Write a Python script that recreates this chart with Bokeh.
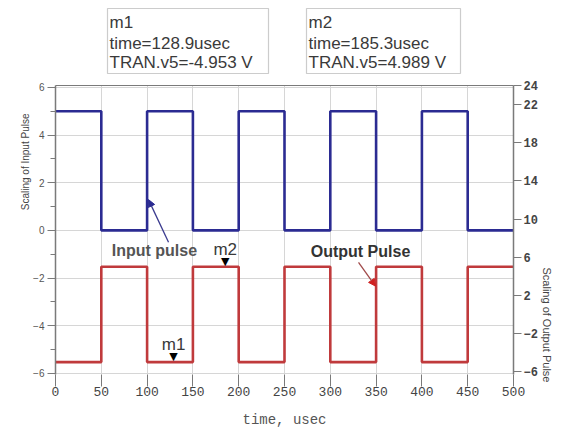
from bokeh.plotting import figure
from bokeh.layouts import column
from bokeh.models import (Range1d, LinearAxis, FixedTicker, Label, Arrow, NormalHead,
                          BoxAnnotation, Title)
from bokeh.core.properties import value
from bokeh.embed import file_html
from bokeh.resources import INLINE

# ---- data ----
edge_times_usec = [0, 50, 100, 150, 200, 250, 300, 350, 400, 450, 500]
input_pulse_v = [5, 0, 5, 0, 5, 0, 5, 0, 5, 0]
output_pulse_v = [-5, 5, -5, 5, -5, 5, -5, 5, -5, 5]

x_ticks = [0, 50, 100, 150, 200, 250, 300, 350, 400, 450, 500]
left_ticks = [-6, -4, -2, 0, 2, 4, 6]
left_minor = [-5, -3, -1, 1, 3, 5]
right_ticks = [-6, -2, 2, 6, 10, 14, 18, 22, 24]

marker_names = ["m1", "m2"]
marker_time_usec = [128.9, 185.3]
marker_v = [-4.953, 4.989]


def steps(edges, levels):
    xs, ys = [], []
    for i, lv in enumerate(levels):
        xs += [edges[i], edges[i + 1]]
        ys += [lv, lv]
    return xs, ys


in_x, in_y = steps(edge_times_usec, input_pulse_v)
out_x, out_y = steps(edge_times_usec, output_pulse_v)

AX = "#7a7a7a"
TXT = "#3a3a3a"
W = 557
FRAME_LEFT = 55   # column layout aligns the strip's frame with the chart's frame

# ---------- marker readout strip (above the chart) ----------
top = figure(width=W, height=77, x_range=Range1d(0, W), y_range=Range1d(0, 77),
             output_backend="svg", toolbar_location=None, min_border=0,
             x_axis_location=None, y_axis_location=None)
top.outline_line_color = None
top.grid.visible = False
top.background_fill_color = "white"
top.border_fill_color = "white"

box_left = [107, 306]
box_right = [268, 460]
for name, t, v, bl, br in zip(marker_names, marker_time_usec, marker_v, box_left, box_right):
    top.add_layout(BoxAnnotation(left=bl - FRAME_LEFT, right=br - FRAME_LEFT, top=69, bottom=4,
                                 left_units="screen", right_units="screen",
                                 top_units="screen", bottom_units="screen",
                                 fill_color="white", fill_alpha=1.0,
                                 line_color="#555555", line_width=1.2))
    lines = [name, f"time={t}usec", f"TRAN.v5={v} V"]
    for ln, yc in zip(lines, [55, 34, 15]):
        top.add_layout(Label(x=bl + 2 - FRAME_LEFT, y=yc, x_units="screen", y_units="screen",
                             text=ln, text_align="left", text_baseline="middle",
                             text_font="Liberation Sans", text_font_size="17px",
                             text_color=TXT))

# ---------- main chart ----------
p = figure(width=W, height=353, x_range=Range1d(0, 500), y_range=Range1d(-6.05, 6.08),
           output_backend="svg", toolbar_location=None,
           min_border_left=55, min_border_right=44, min_border_top=8, min_border_bottom=54)
p.extra_y_ranges = {"right": Range1d(-6.3, 24)}
p.outline_line_color = None
p.background_fill_color = "white"
p.border_fill_color = "white"

p.xgrid.ticker = FixedTicker(ticks=x_ticks)
p.ygrid.ticker = FixedTicker(ticks=left_ticks)
p.grid.grid_line_color = "#d6d6d6"
p.grid.grid_line_width = 1

xa = p.xaxis[0]
xa.ticker = FixedTicker(ticks=x_ticks)
xa.axis_line_color = None
xa.major_tick_in = 0
xa.major_tick_out = 12
xa.major_tick_line_color = AX
xa.minor_tick_line_color = None
xa.major_label_text_font = "Liberation Mono"
xa.major_label_text_font_size = "13px"
xa.major_label_text_color = "#444444"
xa.major_label_standoff = 0
xa.axis_label = "time, usec"
xa.axis_label_text_font = "Liberation Mono"
xa.axis_label_text_font_size = "14px"
xa.axis_label_text_font_style = "normal"
xa.axis_label_text_color = "#555555"
xa.axis_label_standoff = 13

ya = p.yaxis[0]
ya.ticker = FixedTicker(ticks=left_ticks, minor_ticks=left_minor)
ya.axis_line_color = AX
ya.axis_line_width = 1.5
ya.major_tick_in = 0
ya.major_tick_out = 8
ya.minor_tick_in = 0
ya.minor_tick_out = 5
ya.major_tick_line_color = AX
ya.minor_tick_line_color = AX
ya.major_label_text_font = "Liberation Sans"
ya.major_label_text_font_size = "10px"
ya.major_label_text_color = "#555555"
ya.major_label_standoff = 3

ra = LinearAxis(y_range_name="right", ticker=FixedTicker(ticks=right_ticks))
ra.axis_line_color = AX
ra.axis_line_width = 1.5
ra.major_tick_in = 0
ra.major_tick_out = 8
ra.major_tick_line_color = AX
ra.minor_tick_line_color = None
ra.major_label_text_font = "Liberation Mono"
ra.major_label_text_font_style = "bold"
ra.major_label_text_font_size = "12px"
ra.major_label_text_color = "#444444"
ra.major_label_standoff = 2
p.add_layout(ra, "right")

ta = LinearAxis(ticker=FixedTicker(ticks=[]))
ta.axis_line_color = AX
ta.axis_line_width = 1.2
ta.major_tick_line_color = None
ta.minor_tick_line_color = None
ta.major_tick_out = 0
ta.major_label_standoff = 0
ta.major_label_text_font_size = "0px"
p.add_layout(ta, "above")

# axis titles as side titles (offset along the side)
p.add_layout(Title(text="Scaling of Input Pulse", align="right", offset=28,
                   text_font="Liberation Sans", text_font_size="10px",
                   text_font_style="normal", text_color="#444444", standoff=0), "left")
p.add_layout(Title(text="Scaling of Output Pulse", align="left", offset=182,
                   text_font="Liberation Sans", text_font_size="11px",
                   text_font_style="normal", text_color="#444444", standoff=0), "right")

# signals
p.line(in_x, in_y, line_color="#2b2b92", line_width=2.6)
p.line(out_x, out_y, y_range_name="right", line_color="#c03a3c", line_width=2.6)

# markers
p.text(x=marker_time_usec, y=marker_v, text=["\u25BC"] * 2, y_range_name="right",
       text_align="center", text_baseline="bottom", text_font_size="11px",
       text_color="black", text_font=value("DejaVu Sans"), y_offset=1)
p.text(x=marker_time_usec, y=marker_v, text=marker_names, y_range_name="right",
       text_align="center", text_baseline="bottom", text_font_size="17px",
       text_color=TXT, text_font=value("Liberation Sans"), y_offset=-8)

# annotations
p.add_layout(Label(x=108, y=-0.84, text="Input pulse", text_align="center", text_baseline="middle",
                   text_font="Liberation Sans", text_font_style="bold", text_font_size="16px",
                   text_color="#555555"))
p.add_layout(Label(x=333, y=-0.88, text="Output Pulse", text_align="center", text_baseline="middle",
                   text_font="Liberation Sans", text_font_style="bold", text_font_size="16px",
                   text_color="#333333"))
p.add_layout(Arrow(x_start=123.4, y_start=-0.5, x_end=101.5, y_end=1.29,
                   line_color="#3b3b8f", line_width=1.3,
                   end=NormalHead(size=7, fill_color="#2b2b92", line_color="#2b2b92")))
p.add_layout(Arrow(x_start=330.8, y_start=-1.34, x_end=349.3, y_end=-2.34,
                   line_color="#a04a4a", line_width=1.3,
                   end=NormalHead(size=7, fill_color="#d02020", line_color="#d02020")))

layout = column(top, p, spacing=0)
open("out.html", "w").write(file_html(layout, INLINE))
